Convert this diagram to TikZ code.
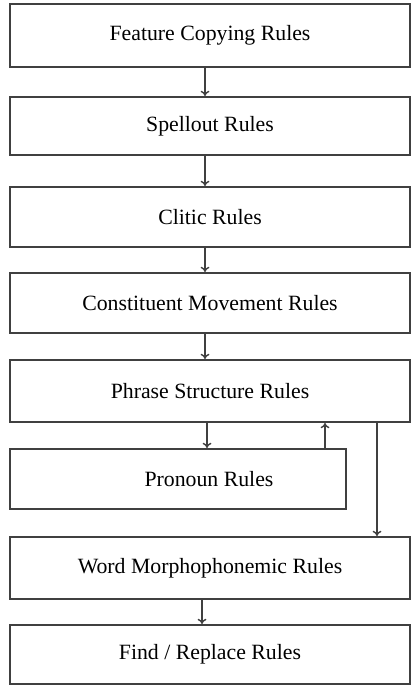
\documentclass[tikz,border=0pt]{standalone}
\usepackage{fontspec}
\setmainfont{Liberation Serif}
\usetikzlibrary{arrows.meta}
\begin{document}
\begin{tikzpicture}[x=0.02cm, y=-0.02cm,
		rulebox/.style={draw=black!75, line width=1.1pt, rectangle, inner sep=0pt,
			font=\fontsize{12.4}{14}\selectfont},
		flow/.style={draw=black!75, line width=0.8pt, -{To[length=3pt,width=5pt]}}]
	\useasboundingbox (0,0) rectangle (411,686);
	% arrow columns
	\coordinate (mid) at (205,0);
	\coordinate (down) at (207,0);
	\coordinate (back) at (325,0);
	\coordinate (bypass) at (377,0);
	\coordinate (low) at (202,0);

	% rule boxes
	\node[rulebox, minimum width=8cm, minimum height=1.26cm] (copying) at (210,35.5) {Feature Copying Rules};
	\node[rulebox, minimum width=8cm, minimum height=1.16cm] (spellout) at (210,126) {Spellout Rules};
	\node[rulebox, minimum width=8cm, minimum height=1.2cm] (clitic) at (210,217) {Clitic Rules};
	\node[rulebox, minimum width=8cm, minimum height=1.2cm] (movement) at (210,303) {Constituent Movement Rules};
	\node[rulebox, minimum width=8cm, minimum height=1.24cm] (phrase) at (210,391) {Phrase Structure Rules};
	\node[rulebox, minimum width=6.72cm, minimum height=1.2cm] (pronoun) at (178,479) {\hspace*{1.24cm}Pronoun Rules};
	\node[rulebox, minimum width=8cm, minimum height=1.24cm] (morph) at (210,568) {Word Morphophonemic Rules};
	\node[rulebox, minimum width=8cm, minimum height=1.18cm] (replace) at (210,654.5) {Find / Replace Rules};

	% arrows
	\draw[flow] (copying.south -| mid) -- (spellout.north -| mid);
	\draw[flow] (spellout.south -| mid) -- (clitic.north -| mid);
	\draw[flow] (clitic.south -| mid) -- (movement.north -| mid);
	\draw[flow] (movement.south -| mid) -- (phrase.north -| mid);
	\draw[flow] (phrase.south -| down) -- (pronoun.north -| down);
	\draw[flow] (pronoun.north -| back) -- (phrase.south -| back);
	\draw[flow] (phrase.south -| bypass) -- (morph.north -| bypass);
	\draw[flow] (morph.south -| low) -- (replace.north -| low);
\end{tikzpicture}
\end{document}
